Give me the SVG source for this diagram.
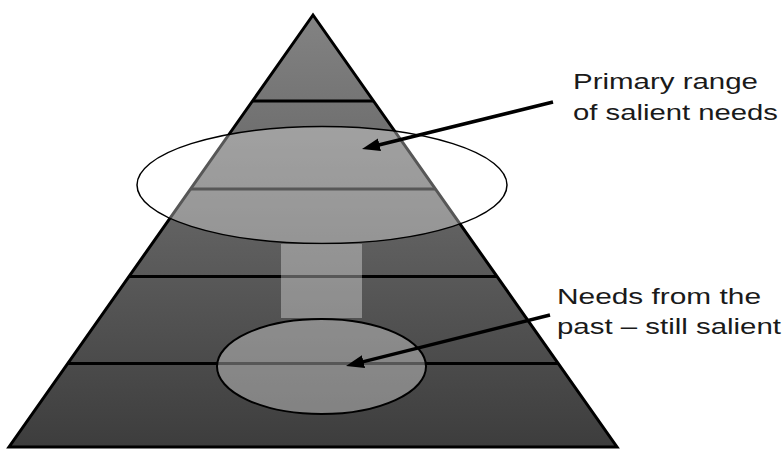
<svg xmlns="http://www.w3.org/2000/svg" width="782" height="450" viewBox="0 0 782 450">
<style>
.band{stroke:#000;stroke-width:3}
.ov{fill:#fff;fill-opacity:0.34}
.ring{fill:none;stroke:#000}
.lbl{font-family:"Liberation Sans",Arial,sans-serif;font-size:22px;fill:#1a1a1a}
.arr{stroke:#000;stroke-width:3.5;fill:none}
</style>
<defs>
<linearGradient id="g" gradientUnits="userSpaceOnUse" x1="0" y1="15" x2="0" y2="447">
<stop offset="0" stop-color="#838383"/>
<stop offset="1" stop-color="#3d3d3d"/>
</linearGradient>
<clipPath id="tri"><polygon points="313,15 9,447 617,447"/></clipPath>
<marker id="ah" markerUnits="userSpaceOnUse" markerWidth="20" markerHeight="14" refX="4" refY="6.5" orient="auto">
<path d="M0,0 L18,6.5 L0,13 z" fill="#000"/>
</marker>
</defs>
<g id="pyramid">
<polygon points="313,15 9,447 617,447" fill="url(#g)"/>
<g clip-path="url(#tri)">
<line class="band" x1="0" y1="101" x2="782" y2="101"/>
<line class="band" x1="0" y1="189" x2="782" y2="189"/>
<line class="band" x1="0" y1="276.5" x2="782" y2="276.5"/>
<line class="band" x1="0" y1="363.5" x2="782" y2="363.5"/>
</g>
<polygon points="313,15 9,447 617,447" fill="none" stroke="#000" stroke-width="3" stroke-linejoin="miter"/>
</g>
<g id="primary-range">
<ellipse class="ov" cx="322" cy="185" rx="185" ry="58.5"/>
<ellipse class="ring" cx="322" cy="185" rx="185" ry="58.5" stroke-width="1.5"/>
</g>
<g id="bridge">
<rect class="ov" x="281" y="244" width="81" height="74"/>
</g>
<g id="past-needs">
<ellipse class="ov" cx="321.5" cy="366.5" rx="104.5" ry="47.5"/>
<ellipse class="ring" cx="321.5" cy="366.5" rx="104.5" ry="47.5" stroke-width="2"/>
</g>
<g id="connectors">
<line class="arr" x1="553" y1="102" x2="375.6" y2="145.7" marker-end="url(#ah)"/>
<line class="arr" x1="550" y1="315" x2="359.6" y2="362.6" marker-end="url(#ah)"/>
</g>
<g id="label-primary">
<text class="lbl" x="573" y="89" textLength="185" lengthAdjust="spacingAndGlyphs">Primary range</text>
<text class="lbl" x="573" y="120" textLength="205" lengthAdjust="spacingAndGlyphs">of salient needs</text>
</g>
<g id="label-past">
<text class="lbl" x="557" y="304" textLength="204" lengthAdjust="spacingAndGlyphs">Needs from the</text>
<text class="lbl" x="557" y="334" textLength="224" lengthAdjust="spacingAndGlyphs">past – still salient</text>
</g>
</svg>
